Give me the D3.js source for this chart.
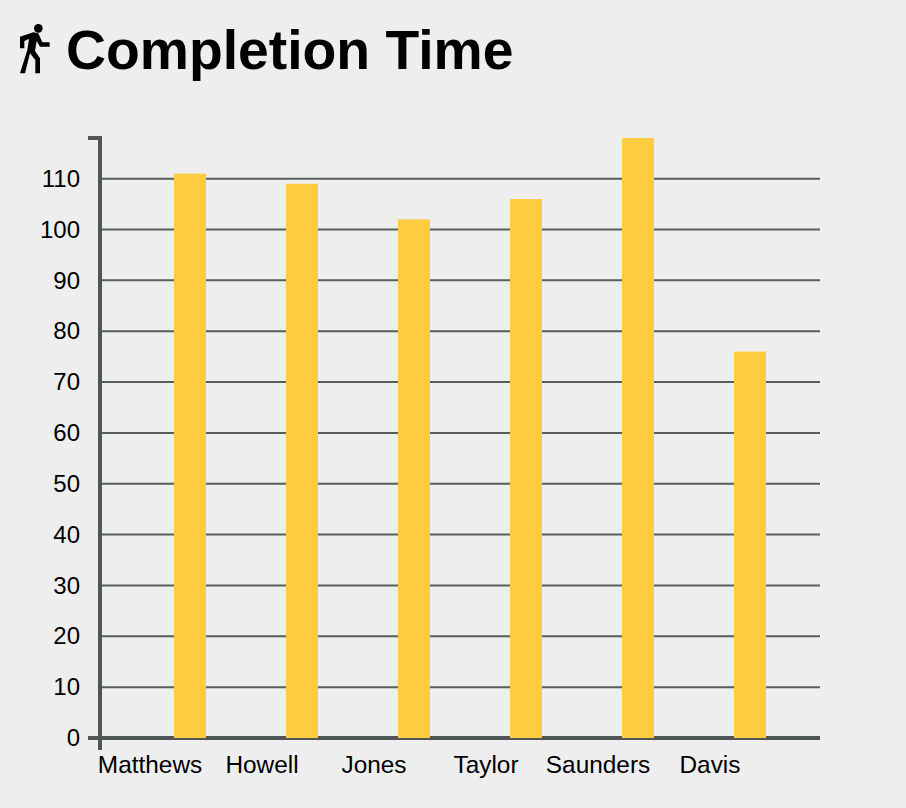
<!DOCTYPE html>
<html>
<head>
<meta charset="utf-8">
<script src="https://cdnjs.cloudflare.com/ajax/libs/d3/7.8.5/d3.min.js"></script>
<style>
  html, body { margin: 0; padding: 0; background: #eeeeee; }
  svg { display: block; }
  text { font-family: "Liberation Sans", Helvetica, Arial, sans-serif; fill: #000; }
</style>
</head>
<body>
<script>
//** Chart data
var names = ['Matthews', 'Howell', 'Jones', 'Taylor', 'Saunders', 'Davis'];
var times = [111, 109, 102, 106, 118, 76];
var yTicks = [0, 10, 20, 30, 40, 50, 60, 70, 80, 90, 100, 110];

var axisColor = '#4f5756';

var svg = d3.select('body').append('svg')
    .attr('width', 906)
    .attr('height', 808);

//** Title, with the walking figure drawn beside it
var walker = svg.append('g')
    .attr('transform', 'translate(10,15) scale(0.3333)')
    .attr('fill', '#000');
walker.append('circle').attr('cx', 85).attr('cy', 40).attr('r', 13);
walker.append('path')
    .attr('d', 'M30,65 L70,52 L85,55 L97,82 L119,82 L119,95 L90,95 L80,78 L75,108 L90,130 L90,175 L76,175 L76,135 L60,115 L45,175 L30,175 L52,105 L57,72 L43,78 L43,100 L30,100 Z');

svg.append('text')
    .attr('x', 66)
    .attr('y', 69)
    .attr('font-size', 55.3)
    .attr('font-weight', 'bold')
    .text('Completion Time');

//** Scales
var y = d3.scaleLinear().domain([0, 118]).range([738, 138]);

var x = d3.scaleBand().domain(names)
    .range([100, 820])
    .paddingInner(0.714)
    .paddingOuter(0.571)
    .align(0.578);

// labels sit to the left of their bars in the original
var xLabels = d3.scaleBand().domain(names).range([94, 766]);

//** Grid lines
svg.append('g').selectAll('line')
    .data(yTicks.slice(1))
    .enter().append('line')
    .attr('x1', 100)
    .attr('x2', 820)
    .attr('y1', function(d){ return y(d); })
    .attr('y2', function(d){ return y(d); })
    .attr('stroke', '#575e5d')
    .attr('stroke-width', 2);

//** Axis lines
var axisLines = [
  [[88, 138], [100, 138], [100, 750]],
  [[88, 738], [820, 738]]
];
svg.append('g').selectAll('path')
    .data(axisLines)
    .enter().append('path')
    .attr('d', d3.line())
    .attr('fill', 'none')
    .attr('stroke', axisColor)
    .attr('stroke-width', 4);

//** Bars
svg.append('g').selectAll('rect')
    .data(times)
    .enter().append('rect')
    .attr('x', function(d, i){ return x(names[i]); })
    .attr('y', function(d){ return y(d); })
    .attr('width', x.bandwidth())
    .attr('height', function(d){ return y(0) - y(d); })
    .attr('fill', '#ffcb3f');

//** Y axis
var yAxis = svg.append('g')
    .attr('transform', 'translate(100,0)')
    .call(d3.axisLeft(y).tickValues(yTicks).tickSize(0).tickPadding(20).tickFormat(d3.format('d')));
yAxis.select('.domain').remove();
yAxis.selectAll('text').attr('font-size', 24).attr('fill', '#000').style('font-family', '"Liberation Sans"');

//** X axis
var xAxis = svg.append('g')
    .attr('transform', 'translate(0,738)')
    .call(d3.axisBottom(xLabels).tickSize(0).tickPadding(18));
xAxis.select('.domain').remove();
xAxis.selectAll('text').attr('font-size', 24.4).attr('fill', '#000').style('font-family', '"Liberation Sans"');
</script>
</body>
</html>
